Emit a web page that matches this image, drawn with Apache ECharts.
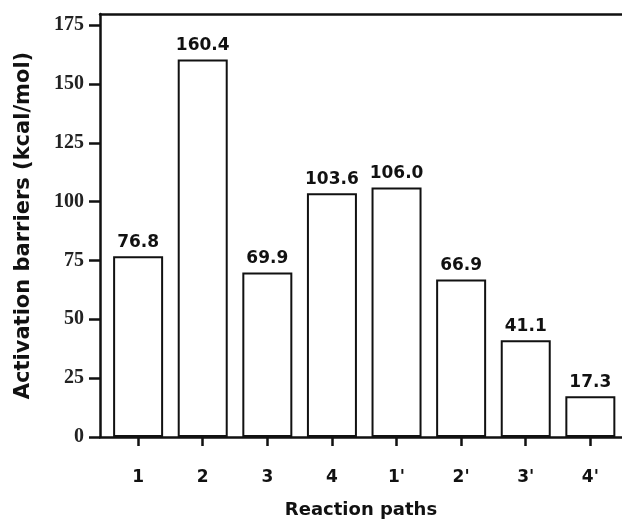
<!DOCTYPE html>
<html>
<head>
<meta charset="utf-8">
<script src="https://cdn.jsdelivr.net/npm/echarts@6/dist/echarts.min.js"></script>
<style>
html,body{margin:0;padding:0;background:#fff;}
#chart{width:622px;height:524px;}
</style>
</head>
<body>
<div id="chart"></div>
<script>
// Data
var categories = ["1", "2", "3", "4", "1'", "2'", "3'", "4'"];
var barriers = [76.8, 160.4, 69.9, 103.6, 106.0, 66.9, 41.1, 17.3];
var yTicks = [0, 25, 50, 75, 100, 125, 150, 175];

var positions = categories.map(function (c, i) { return i + 1; });
var seriesData = barriers.map(function (v, i) { return [positions[i], v]; });

var ink = '#111';
var chart = echarts.init(document.getElementById('chart'), null, {renderer: 'canvas'});
chart.setOption({
  animation: false,
  backgroundColor: '#fff',
  grid: {left: 100, right: 0, top: 14, bottom: 86, containLabel: false},
  xAxis: [{
    type: 'value',
    position: 'bottom',
    min: 0.41,
    max: 8.49,
    name: 'Reaction paths',
    nameLocation: 'middle',
    nameGap: 64,
    nameTextStyle: {fontFamily: 'DejaVu Sans', fontWeight: 'bold', fontSize: 18, color: ink},
    axisLine: {show: true, lineStyle: {color: ink, width: 2.5}},
    axisTick: {show: true, inside: false, length: 9, customValues: positions, lineStyle: {color: ink, width: 2.5}},
    axisLabel: {
      show: true, margin: 32, customValues: positions,
      fontFamily: 'DejaVu Sans', fontWeight: 'bold', fontSize: 17, color: ink,
      formatter: function (v) { return categories[Math.round(v) - 1] || ''; }
    },
    splitLine: {show: false}
  }, {
    type: 'value',
    position: 'top',
    min: 0.41,
    max: 8.49,
    axisLine: {show: true, lineStyle: {color: ink, width: 2.5}},
    axisTick: {show: false},
    axisLabel: {show: false},
    splitLine: {show: false}
  }],
  yAxis: {
    type: 'value',
    min: 0,
    max: 179.7,
    name: 'Activation barriers (kcal/mol)',
    nameLocation: 'middle',
    nameGap: 66,
    nameRotate: 90,
    nameTextStyle: {fontFamily: 'DejaVu Sans', fontWeight: 'bold', fontSize: 21, color: ink},
    axisLine: {show: true, lineStyle: {color: ink, width: 2.5}},
    axisTick: {show: true, inside: false, length: 11, customValues: yTicks, lineStyle: {color: ink, width: 2.5}},
    axisLabel: {
      show: true, margin: 16, customValues: yTicks,
      fontFamily: 'Liberation Serif', fontWeight: 'bold', fontSize: 20, color: '#222'
    },
    splitLine: {show: false}
  },
  series: [{
    type: 'bar',
    xAxisIndex: 0,
    data: seriesData,
    barWidth: 50,
    itemStyle: {color: '#fff', borderColor: ink, borderWidth: 2},
    label: {
      show: true, position: 'top', distance: 5,
      fontFamily: 'DejaVu Sans', fontWeight: 'bold', fontSize: 17, color: ink,
      formatter: function (p) { return p.value[1].toFixed(1); }
    }
  }]
});
</script>
</body>
</html>
